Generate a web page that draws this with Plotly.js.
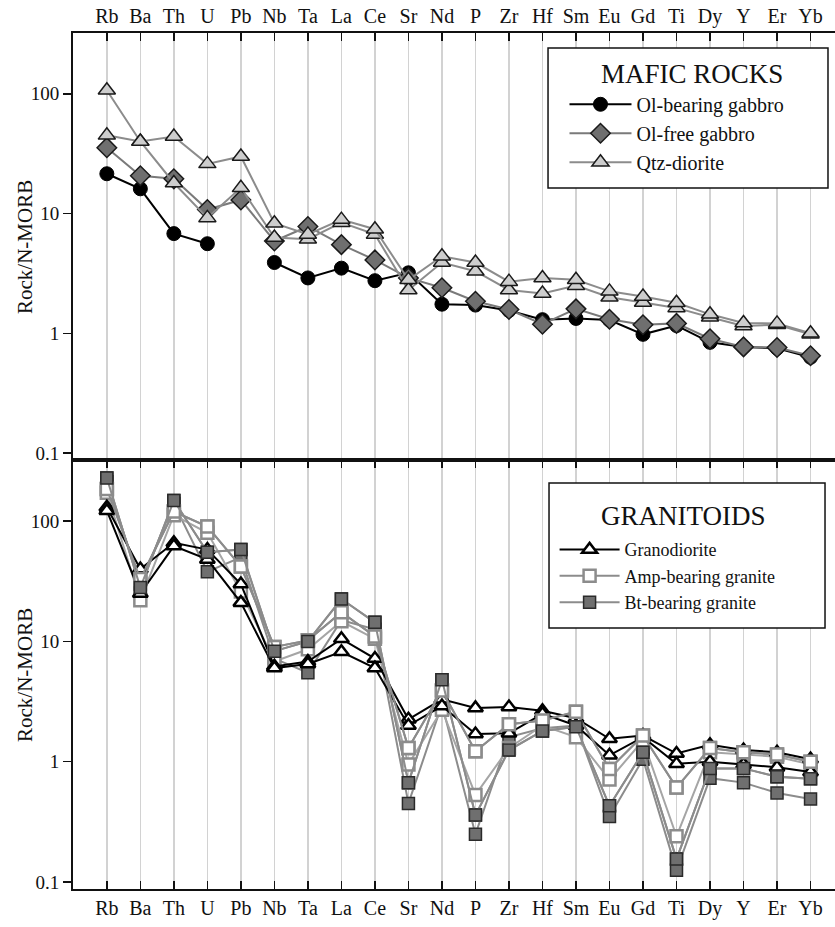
<!DOCTYPE html>
<html>
<head>
<meta charset="utf-8">
<script src="https://cdn.plot.ly/plotly-3.0.1.min.js"></script>
<style>html,body{margin:0;padding:0;background:#fff;}#chart{width:835px;height:927px;}</style>
</head>
<body>
<div id="chart"></div>
<script>
const elements = ["Rb","Ba","Th","U","Pb","Nb","Ta","La","Ce","Sr","Nd","P","Zr","Hf","Sm","Eu","Gd","Ti","Dy","Y","Er","Yb"];
const yTickVals = [0.1, 1, 10, 100];
const yTickText = ["0.1", "1", "10", "100"];

// Mafic rocks
const olBearingGabbro = [21.5,16.1,6.8,5.6,null,3.9,2.9,3.5,2.75,3.2,1.75,1.72,1.55,1.3,1.33,1.29,0.98,1.16,0.84,0.77,0.75,0.63];
const olFreeGabbro   = [35.5,20.7,19.5,10.8,13,5.9,7.8,5.5,4.1,2.9,2.4,1.85,1.58,1.19,1.6,1.31,1.18,1.21,0.9,0.77,0.76,0.65];
const qtzDioriteA    = [107,40,18,9.2,16.4,6.3,6.1,8.4,6.7,2.3,3.9,3.3,2.3,2.15,2.5,2.0,1.81,1.63,1.36,1.15,1.18,0.98];
const qtzDioriteB    = [45,40,44,26,30,8.3,6.7,8.9,7.4,2.8,4.4,3.9,2.7,2.9,2.8,2.24,2.03,1.8,1.44,1.22,1.21,1.0];

// Granitoids
const granodioriteA = [130,40,66,58,30,6.2,6.8,10.5,7.2,2.25,3.3,2.8,2.85,2.65,2.3,1.55,1.65,1.17,1.38,1.25,1.2,1.05];
const granodioriteB = [122,25,62,48,21,6.0,6.5,8.2,6.0,2.0,2.9,1.7,1.72,2.5,2.0,1.13,1.6,0.96,1.0,0.95,0.9,0.82];
const ampGraniteA   = [185,33,120,90,42,9.0,10.2,17.5,11,1.3,3.9,1.22,2.05,2.2,2.6,0.87,1.65,0.61,1.3,1.2,1.15,1.0];
const ampGraniteB   = [172,22,112,80,26,6.8,8.6,14.7,10.5,0.95,2.7,0.53,1.3,2.0,1.6,0.71,1.5,0.24,1.2,1.15,1.1,0.95];
const btGraniteA    = [228,28,148,55,58,8.3,10,22.5,14.4,0.67,4.8,0.36,1.25,1.8,1.95,0.43,1.2,0.155,0.88,0.88,0.75,0.72];
const btGraniteB    = [212,30,140,38,50,7.2,5.5,15,12.6,0.45,3.0,0.25,1.6,1.9,2.0,0.35,1.05,0.125,0.73,0.67,0.55,0.49];

const FONT = "'Liberation Serif', 'Times New Roman', serif";

function tr(y, name, group, show, xa, ya, leg, lineColor, lineW, sym, size, fill, edge, edgeW) {
  return {
    type: "scatter", mode: "lines+markers", x: elements, y: y, name: name,
    legendgroup: group, showlegend: show, xaxis: xa, yaxis: ya, legend: leg,
    connectgaps: false, cliponaxis: false,
    line: {color: lineColor, width: lineW},
    marker: {symbol: sym, size: size, color: fill, line: {color: edge, width: edgeW}}
  };
}

const data = [
  tr(olBearingGabbro, "Ol-bearing gabbro", "a", true, "x", "y", "legend", "#000", 2, "circle", 14, "#000", "#000", 1),
  tr(olFreeGabbro, "Ol-free gabbro", "b", true, "x", "y", "legend", "#7a7a7a", 2, "diamond", 15, "#6f6f6f", "#1a1a1a", 1.5),
  tr(qtzDioriteA, "Qtz-diorite", "c", true, "x", "y", "legend", "#8c8c8c", 2, "triangle-up", 15, "#cdcdcd", "#1a1a1a", 1.5),
  tr(qtzDioriteB, "Qtz-diorite", "c", false, "x", "y", "legend", "#8c8c8c", 2, "triangle-up", 15, "#cdcdcd", "#1a1a1a", 1.5),

  tr(btGraniteA, "Bt-bearing granite", "f", false, "x2", "y2", "legend2", "#8c8c8c", 2, "square", 12, "#6f6f6f", "#2a2a2a", 1.5),
  tr(btGraniteB, "Bt-bearing granite", "f", false, "x2", "y2", "legend2", "#8c8c8c", 2, "square", 12, "#6f6f6f", "#2a2a2a", 1.5),
  tr(ampGraniteA, "Amp-bearing granite", "e", false, "x2", "y2", "legend2", "#8c8c8c", 2, "square", 12, "#ffffff", "#8c8c8c", 2.5),
  tr(ampGraniteB, "Amp-bearing granite", "e", false, "x2", "y2", "legend2", "#a5a5a5", 2, "square", 12, "#ffffff", "#8c8c8c", 2.5),
  tr(granodioriteA, "Granodiorite", "d", true, "x2", "y2", "legend2", "#000", 2, "triangle-up", 13, "#ffffff", "#000", 2.5),
  tr(granodioriteB, "Granodiorite", "d", false, "x2", "y2", "legend2", "#000", 2, "triangle-up", 13, "#ffffff", "#000", 2.5),
  tr(ampGraniteA, "Amp-bearing granite", "e", true, "x2", "y2", "legend2", "#8c8c8c", 2, "square", 12, "#ffffff", "#8c8c8c", 2.5),
  tr(btGraniteA, "Bt-bearing granite", "f", true, "x2", "y2", "legend2", "#8c8c8c", 2, "square", 12, "#6f6f6f", "#2a2a2a", 1.5)
];

const xBase = {
  type: "category", categoryorder: "array", categoryarray: elements,
  range: [-1.01, 21.73], showgrid: true, gridcolor: "#d2d2d2", gridwidth: 1.5,
  showline: true, linecolor: "#111", linewidth: 2,
  ticks: "inside", ticklen: 8, tickwidth: 1.5, tickcolor: "#111",
  tickfont: {family: FONT, size: 20, color: "#111"}, zeroline: false, fixedrange: true
};
const yBase = {
  type: "log", range: [-1.058, 2.508], tickvals: yTickVals, ticktext: yTickText,
  showgrid: false, zeroline: false, showline: true, linecolor: "#111", linewidth: 2,
  ticks: "outside", ticklen: 8, tickwidth: 1.5, tickcolor: "#111",
  tickfont: {family: FONT, size: 19, color: "#111"}
};

const divider = 0.5012;
const layout = {
  width: 835, height: 927,
  margin: {l: 73, r: 0, t: 33, b: 38},
  paper_bgcolor: "#fff", plot_bgcolor: "#fff",
  font: {family: FONT, color: "#111"},
  xaxis: Object.assign({}, xBase, {anchor: "y", side: "top", mirror: true}),
  yaxis: Object.assign({}, yBase, {domain: [divider, 1], anchor: "x"}),
  xaxis2: Object.assign({}, xBase, {anchor: "y2", side: "bottom", mirror: "ticks"}),
  yaxis2: Object.assign({}, yBase, {domain: [0, divider], anchor: "x2"}),
  showlegend: true,
  legend: {x: 0.645, y: 0.9395, xanchor: "left", yanchor: "top", bgcolor: "rgba(0,0,0,0)",
           borderwidth: 0, font: {family: FONT, size: 20, color: "#111"}, itemwidth: 62,
           tracegroupgap: 0, traceorder: "grouped"},
  legend2: {x: 0.632, y: 0.418, xanchor: "left", yanchor: "top", bgcolor: "rgba(0,0,0,0)",
           borderwidth: 0, font: {family: FONT, size: 18, color: "#111"}, itemwidth: 60,
           tracegroupgap: 0, traceorder: "normal"},
  shapes: [
    {type: "rect", xref: "paper", yref: "paper", x0: 0.6234, x1: 0.9908, y0: 0.8189, y1: 0.9825,
     line: {color: "#111", width: 1.5}, fillcolor: "#fff", layer: "above"},
    {type: "rect", xref: "paper", yref: "paper", x0: 0.6247, x1: 0.9869, y0: 0.3049, y1: 0.4743,
     line: {color: "#111", width: 1.5}, fillcolor: "#fff", layer: "above"}
  ],
  annotations: [
    {text: "MAFIC ROCKS", xref: "paper", yref: "paper", x: 0.8123, y: 0.9516, xanchor: "center", yanchor: "middle",
     showarrow: false, font: {family: FONT, size: 27, color: "#111"}},
    {text: "GRANITOIDS", xref: "paper", yref: "paper", x: 0.8018, y: 0.4358, xanchor: "center", yanchor: "middle",
     showarrow: false, font: {family: FONT, size: 27, color: "#111"}},
    {text: "Rock/N-MORB", xref: "paper", yref: "paper", x: -0.063, y: 0.75, xanchor: "center", yanchor: "middle",
     textangle: -90, showarrow: false, font: {family: FONT, size: 21, color: "#111"}},
    {text: "Rock/N-MORB", xref: "paper", yref: "paper", x: -0.063, y: 0.25, xanchor: "center", yanchor: "middle",
     textangle: -90, showarrow: false, font: {family: FONT, size: 21, color: "#111"}}
  ]
};

Plotly.newPlot("chart", data, layout, {staticPlot: true, displayModeBar: false});
</script>
</body>
</html>
